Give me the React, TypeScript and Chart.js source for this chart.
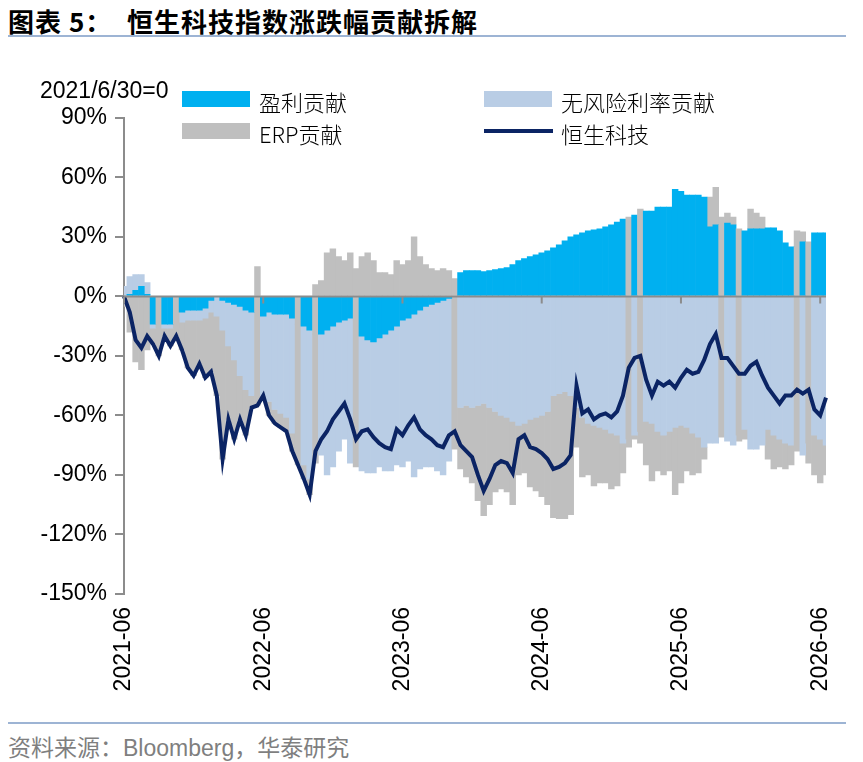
import React, { useEffect, useRef } from 'react';
import { Chart, registerables } from 'chart.js';

Chart.register(...registerables);

// ---------------- data (semi-monthly points, 2021-06-30 = 0) ----------------
const tickLabels = ['2021-06', '2022-06', '2023-06', '2024-06', '2025-06', '2026-06'];
const tickIndices = [0, 24, 48, 72, 96, 120];

// 恒生科技 cumulative change (%)
const hstech = [
  0, -8, -22, -26, -20, -24, -30, -20, -25, -20,
  -27, -36, -40, -34, -41, -38, -50, -82, -62, -72,
  -62, -70, -56, -55, -50, -60, -64, -66, -68, -78,
  -85, -92, -100, -78, -72, -68, -62, -58, -54, -62,
  -72, -68, -67, -71, -74, -76, -77, -67, -70, -65,
  -61, -67, -70, -72, -75, -76, -70, -68, -75, -78,
  -81, -90, -98, -92, -85, -83, -84, -89, -72, -70,
  -76, -77, -79, -82, -87, -86, -84, -80, -45, -59,
  -57, -62, -60, -59, -61, -58, -50, -36, -31, -30,
  -42, -50, -43, -45, -43, -46, -41, -37, -39, -38,
  -32, -24, -19, -31, -31, -35, -39, -39, -35, -33,
  -40, -46, -50, -54, -50, -50, -47, -49, -47, -57,
  -60, -51,
];

// 盈利贡献 (%)
const earnings = [
  0, 1, 3, 5, 1, -14, -14, -14, -14, -14,
  -8, -7, -7, -7, -6, -2, 0, -2, -3, -4,
  -5, -7, -8, -8, -10, -8, -9, -9, -9, -11,
  -14, -15, -17, -19, -19, -17, -15, -13, -12, -11,
  -12, -20, -22, -23, -21, -19, -17, -15, -12, -11,
  -9, -7, -5, -4, -3, -2, -1, 1, 12, 13,
  13, 13, 12.5, 13, 13.5, 14, 14.5, 16, 18, 19,
  20, 21, 22, 23, 24.5, 26, 28, 30, 31, 32,
  33, 33.5, 34, 35, 36, 37.5, 39, 40, 41, 44,
  43, 43, 45, 45, 45, 54, 53, 51, 51, 51,
  50, 35, 36, 36, 37, 36, 34, 33, 34, 34,
  34, 34.5, 34.5, 33, 27, 25, 25, 27.5, 27.5, 32,
  32, 32,
];

// 无风险利率贡献 (%)
const riskFree = [
  5, 9, 8, 6, 6, -2, -2, -2, -2, -2,
  -5, -5, -5, -5, -5, -6, -10, -15, -22, -28,
  -35, -40, -42, -47, -40, -45, -48, -50, -52, -58,
  -62, -70, -75, -65, -61, -73, -71, -65, -60, -73,
  -74, -68, -67, -66, -65, -69, -71, -70, -74, -72,
  -82, -80, -81, -82, -85, -88, -82, -77, -56, -55,
  -56, -55, -54, -56, -58, -60, -61, -63, -65, -64,
  -62, -61, -60, -58, -50, -49, -48, -50, -56, -61,
  -64, -65, -66, -67, -69, -70, -74, -72, -70, -68,
  -63, -64, -68, -70, -68, -66, -65, -66, -69, -71,
  -76, -74, -74, -71, -73, -75, -70, -67, -77, -77,
  -75, -67, -70, -72, -74, -75, -78, -80, -74, -70,
  -72, -75,
];

// ERP贡献 (%)
const erp = [
  -5, -18, -33, -37, -27, -8, -14, -4, -9, -4,
  -14, -24, -28, -22, -30, -30, -40, -65, -37, -40,
  -22, -23, -6, 15, -2, -7, -7, -7, -7, -9,
  -9, -7, -8, 6, 8, 22, 24, 20, 18, 22,
  14, 20, 22, 18, 12, 12, 11, 18, 16, 18,
  30, 20, 16, 14, 13, 14, 13, 8, -31, -36,
  -38, -48, -56.5, -49, -40.5, -37, -37.5, -42, -25, -25,
  -34, -37, -41, -47, -61.5, -63, -64, -60, -20, -30,
  -26, -30.5, -28, -27, -28, -25.5, -15, -4, -2, -6,
  -22, -29, -20, -20, -20, -34, -29, -22, -21, -18,
  -6, 15, 19, 4, 5, 4, -3, -5, 10, 8,
  6, -15, -17, -14, -13, -10, 8, 5, -10, -20,
  -22, -15,
];

// days where the whole column shows as ERP (grey)
const grayDays = [6, 9, 23, 30, 33, 40, 57, 87, 89, 103, 106, 116, 118];

function buildCategories(n: number): string[] {
  const out: string[] = [];
  for (let i = 0; i < n; i++) {
    const m = 5 + Math.ceil(i / 2);
    const y = 2021 + Math.floor(m / 12);
    const mm = String((m % 12) + 1).padStart(2, '0');
    out.push(`${y}-${mm}-${i % 2 ? '15' : '30'}`);
  }
  return out;
}
const categories = buildCategories(hstech.length);

// ---------------- styles ----------------
const BLUE = '#00B0F0';
const LIGHT = '#B9CDE5';
const GRAY = '#BFBFBF';
const NAVY = '#0B2464';
const AXIS = '#8C8C8C';
const RULE = '#9DB4D4';
const TICK_FONT = 'Liberation Sans, Arial, sans-serif';
const CJK = '"Noto Sans CJK SC", "Noto Sans", sans-serif';

const CANVAS_TOP = 96;
const CANVAS_H = 624;
const PAD_TOP = 13;
const X_AXIS_H = 126;
const PLOT_LEFT = 124;
const PLOT_RIGHT = 826;

const colorsFor = (base: string) => categories.map((_, i) => (grayDays.includes(i) ? GRAY : base));

const zeroAxis = {
  id: 'zeroAxis',
  afterDatasetsDraw(chart: any) {
    const { ctx, chartArea, scales } = chart;
    const y0 = scales.y.getPixelForValue(0);
    ctx.save();
    ctx.strokeStyle = AXIS;
    ctx.lineWidth = 2;
    ctx.beginPath();
    ctx.moveTo(chartArea.left, y0);
    ctx.lineTo(chartArea.right, y0);
    for (const i of tickIndices) {
      const px = scales.x.getPixelForValue(i);
      ctx.moveTo(px, y0);
      ctx.lineTo(px, y0 + 7);
    }
    ctx.stroke();
    ctx.restore();
  },
};

const legendItems = [
  { label: '盈利贡献', kind: 'box', color: BLUE, left: 182, top: 91 },
  { label: '无风险利率贡献', kind: 'box', color: LIGHT, left: 484, top: 91 },
  { label: 'ERP贡献', kind: 'box', color: GRAY, left: 182, top: 123 },
  { label: '恒生科技', kind: 'line', color: NAVY, left: 484, top: 123 },
];

export default function App() {
  const ref = useRef<HTMLCanvasElement>(null);

  useEffect(() => {
    document.body.style.margin = '0';
    const canvas = ref.current;
    if (!canvas) return;
    const chart = new Chart(canvas, {
      type: 'bar',
      data: {
        labels: categories,
        datasets: [
          {
            type: 'bar',
            label: '盈利贡献',
            data: earnings,
            backgroundColor: colorsFor(BLUE),
            borderWidth: 0,
            stack: 's',
            order: 1,
          },
          {
            type: 'bar',
            label: '无风险利率贡献',
            data: riskFree,
            backgroundColor: colorsFor(LIGHT),
            borderWidth: 0,
            stack: 's',
            order: 1,
          },
          {
            type: 'bar',
            label: 'ERP贡献',
            data: erp,
            backgroundColor: GRAY,
            borderWidth: 0,
            stack: 's',
            order: 1,
          },
          {
            type: 'line',
            label: '恒生科技',
            data: hstech,
            borderColor: NAVY,
            borderWidth: 4,
            pointRadius: 0,
            tension: 0,
            fill: false,
            stack: 'line',
            order: 0,
          },
        ],
      } as any,
      options: {
        animation: false,
        responsive: false,
        maintainAspectRatio: false,
        layout: { padding: { top: PAD_TOP, right: 863 - PLOT_RIGHT, bottom: 0, left: 0 } },
        plugins: { legend: { display: false }, tooltip: { enabled: false } },
        datasets: { bar: { barPercentage: 1, categoryPercentage: 1 } },
        scales: {
          x: {
            type: 'category',
            stacked: true,
            offset: false,
            grid: { display: false, offset: false },
            border: { display: false },
            ticks: {
              autoSkip: false,
              minRotation: 90,
              maxRotation: 90,
              padding: 5,
              color: '#000',
              font: { family: TICK_FONT, size: 23 },
              callback: (_v: any, i: number) => {
                const k = tickIndices.indexOf(i);
                return k >= 0 ? tickLabels[k] : '';
              },
            },
            afterFit: (s: any) => {
              s.height = X_AXIS_H;
            },
          },
          y: {
            stacked: true,
            min: -150,
            max: 90,
            grid: { drawOnChartArea: false, drawTicks: true, tickLength: 9, color: AXIS, lineWidth: 2 },
            border: { display: true, color: AXIS, width: 2 },
            ticks: {
              stepSize: 30,
              padding: 8,
              color: '#000',
              font: { family: TICK_FONT, size: 23 },
              callback: (v: any) => `${v}%`,
            },
            afterFit: (s: any) => {
              s.width = PLOT_LEFT;
            },
          },
        },
      } as any,
      plugins: [zeroAxis],
    });
    return () => chart.destroy();
  }, []);

  return (
    <div style={{ position: 'relative', width: 863, height: 762, background: '#fff', overflow: 'hidden' }}>
      <div
        style={{
          position: 'absolute', left: 8, top: 8, fontFamily: CJK, fontWeight: 700,
          fontSize: 26, lineHeight: '26px', color: '#000', whiteSpace: 'nowrap', letterSpacing: 1,
        }}
      >
        图表 5：
      </div>
      <div
        style={{
          position: 'absolute', left: 127, top: 8, fontFamily: CJK, fontWeight: 700,
          fontSize: 26, lineHeight: '26px', color: '#000', whiteSpace: 'nowrap', letterSpacing: 1,
        }}
      >
        恒生科技指数涨跌幅贡献拆解
      </div>
      <div style={{ position: 'absolute', left: 8, top: 35, width: 838, height: 2, background: RULE }} />

      <canvas
        ref={ref}
        width={863}
        height={CANVAS_H}
        style={{ position: 'absolute', left: 0, top: CANVAS_TOP, width: 863, height: CANVAS_H }}
      />

      <div
        style={{
          position: 'absolute', left: 40, top: 79, fontFamily: TICK_FONT, fontSize: 23,
          lineHeight: '23px', color: '#000', whiteSpace: 'nowrap',
        }}
      >
        2021/6/30=0
      </div>

      {legendItems.map((it) => (
        <div key={it.label} style={{ position: 'absolute', left: it.left, top: it.top, height: 17 }}>
          {it.kind === 'box' ? (
            <div style={{ position: 'absolute', left: 0, top: 0, width: 68, height: 16, background: it.color }} />
          ) : (
            <div style={{ position: 'absolute', left: 0, top: 6, width: 69, height: 4, background: it.color }} />
          )}
          <div
            style={{
              position: 'absolute', left: 77, top: -1, fontFamily: CJK, fontSize: 22,
              lineHeight: '22px', color: '#000', whiteSpace: 'nowrap', fontWeight: 300,
            }}
          >
            {it.label}
          </div>
        </div>
      ))}

      <div style={{ position: 'absolute', left: 8, top: 722, width: 838, height: 2, background: RULE }} />
      <div
        style={{
          position: 'absolute', left: 8, top: 735, fontFamily: CJK, fontSize: 23,
          lineHeight: '23px', color: '#7F7F7F', whiteSpace: 'nowrap',
        }}
      >
        资料来源：<span style={{ fontFamily: TICK_FONT }}>Bloomberg</span>，华泰研究
      </div>
    </div>
  );
}
